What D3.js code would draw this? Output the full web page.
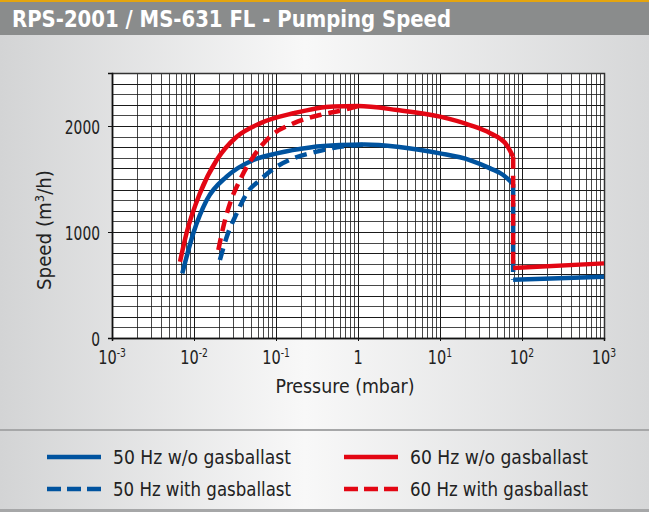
<!DOCTYPE html>
<meta charset="utf-8">
<script src="https://cdn.jsdelivr.net/npm/d3@7"></script>
<style>
body { margin: 0; }
text { font-family: "DejaVu Sans Condensed", "Liberation Sans Narrow", sans-serif; fill: #222; }
.grid line { stroke: #1a1a1a; stroke-width: 1px; shape-rendering: crispEdges; }
.axis path, .axis line { stroke: #111; }
</style>
<body>
<script>

// pressure (mbar) / speed (m3/h)
var p50 = [0.0072, 0.0098, 0.0143, 0.025, 0.053, 0.102, 0.26, 0.6, 1.2, 3, 10, 23, 41, 59, 78];
var s50 = [610, 988, 1302, 1522, 1679, 1742, 1798, 1820, 1825, 1805, 1742, 1679, 1600, 1538, 1453];
var p60 = [0.00675, 0.0081, 0.0118, 0.0189, 0.0332, 0.0638, 0.163, 0.5, 1, 3, 10, 23, 41, 65, 78];
var s60 = [720, 988, 1365, 1679, 1899, 2025, 2120, 2185, 2188, 2151, 2088, 2009, 1931, 1821, 1710];
var p50gb = [0.0207, 0.0251, 0.0332, 0.044, 0.0638, 0.102, 0.163, 0.313, 0.55, 1.2];
var s50gb = [736, 956, 1176, 1365, 1491, 1616, 1695, 1758, 1799, 1825];
var p60gb = [0.0198, 0.0228, 0.0275, 0.0364, 0.0528, 0.0845, 0.163, 0.344, 0.66, 1];
var s60gb = [830, 1050, 1271, 1491, 1711, 1899, 2025, 2104, 2151, 2188];
// after the drop at ~78 mbar
var pLow = [78, 1000];
var s50low = [550, 578];
var s60low = [660, 704];

var yTicks = [0, 1000, 2000];
var xTicks = [1e-3, 1e-2, 1e-1, 1, 10, 100, 1000];
var xTickLabels = [["10", "-3"], ["10", "-2"], ["10", "-1"], ["1", ""], ["10", "1"], ["10", "2"], ["10", "3"]];

var legendNames = ["50 Hz w/o gasballast", "60 Hz w/o gasballast", "50 Hz with gasballast", "60 Hz with gasballast"];

var blue = "#00539f", red = "#e30613";

var W = 649, H = 512;
var mLeft = 112, mRight = 604, mTop = 73, mBottom = 338;

var svg = d3.select("body").append("svg")
    .attr("width", W)
    .attr("height", H);

var defs = svg.append("defs");
var grad = defs.append("linearGradient").attr("id", "bg").attr("x1", 0).attr("x2", 1).attr("y1", 0).attr("y2", 0);
grad.append("stop").attr("offset", "0").attr("stop-color", "#d3d4d5");
grad.append("stop").attr("offset", "0.47").attr("stop-color", "#f8f8f8");
grad.append("stop").attr("offset", "1").attr("stop-color", "#d6d7d8");

svg.append("rect").attr("width", W).attr("height", H).attr("fill", "url(#bg)");

// squeeze a text to a given width (the original face is condensed)
function fit(sel, w) {
    sel.attr("textLength", w).attr("lengthAdjust", "spacingAndGlyphs");
}

// header
svg.append("rect").attr("y", 0).attr("width", W).attr("height", 35).attr("fill", "#8a8c8c");
svg.append("rect").attr("y", 0).attr("width", W).attr("height", 2).attr("fill", "#e5a50f");
svg.append("text")
    .attr("x", 12).attr("y", 27)
    .style("font-size", "23px").style("font-weight", "bold").style("fill", "#fff")
    .text("RPS-2001 / MS-631 FL - Pumping Speed")
    .call(fit, 439);

var x = d3.scaleLog().domain([1e-3, 1e3]).range([mLeft, mRight]);
var y = d3.scaleLinear().domain([0, 2500]).range([mBottom, mTop]);

svg.append("rect")
    .attr("x", mLeft).attr("y", mTop)
    .attr("width", mRight - mLeft).attr("height", mBottom - mTop)
    .attr("fill", "#fff");

// grid
var grid = svg.append("g").attr("class", "grid");
grid.selectAll(".v").data(x.ticks()).enter().append("line")
    .attr("x1", function(d) { return Math.round(x(d)) + 0.5; })
    .attr("x2", function(d) { return Math.round(x(d)) + 0.5; })
    .attr("y1", mTop).attr("y2", mBottom)
    .style("stroke-opacity", function(d) {
        var m = d / Math.pow(10, Math.floor(Math.log10(d) + 1e-9));
        return Math.abs(m - 1) < 1e-6 ? 1 : 0.8;
    });
grid.selectAll(".h").data(d3.range(0, 2501, 100)).enter().append("line")
    .attr("x1", mLeft).attr("x2", mRight)
    .attr("y1", function(d) { return Math.round(y(d)) + 0.5; })
    .attr("y2", function(d) { return Math.round(y(d)) + 0.5; })
    .style("stroke-opacity", function(d, i) { return i % 2 ? 0.8 : 1; });

svg.append("rect")
    .attr("x", mLeft + 0.5).attr("y", mTop + 0.5)
    .attr("width", mRight - mLeft).attr("height", mBottom - mTop)
    .attr("fill", "none").attr("stroke", "#333").attr("stroke-width", 1.5);

// axes
var yAxis = svg.append("g").attr("class", "axis")
    .attr("transform", "translate(" + mLeft + ",0)")
    .call(d3.axisLeft(y).tickValues(yTicks).tickSize(4).tickFormat(d3.format("d")));
yAxis.select(".domain").attr("stroke-width", 1.5);
yAxis.selectAll("text")
    .style("font-size", "19px").attr("x", -12).attr("dy", "0.38em").style("fill", "#222")
    .style("font-family", null)
    .each(function(d) { d3.select(this).call(fit, String(d).length * 8.8); });

var xAxis = svg.append("g").attr("class", "axis")
    .attr("transform", "translate(0," + mBottom + ")")
    .call(d3.axisBottom(x).tickValues(xTicks).tickSize(3).tickFormat(""));
xAxis.select(".domain").attr("stroke-width", 1.5);

var xl = svg.append("g").selectAll("text").data(xTicks).enter().append("text")
    .attr("transform", function(d) { return "translate(" + x(d) + ",364) scale(0.85,1)"; })
    .attr("text-anchor", "middle")
    .style("font-size", "19px");
xl.append("tspan").text(function(d, i) { return xTickLabels[i][0]; });
xl.append("tspan").attr("dy", -7).style("font-size", "12px").text(function(d, i) { return xTickLabels[i][1]; });

svg.append("text")
    .attr("x", 345).attr("y", 393)
    .attr("text-anchor", "middle")
    .style("font-size", "19px")
    .text("Pressure (mbar)")
    .call(fit, 139);

var yl = svg.append("text")
    .attr("transform", "translate(51,230) rotate(-90)")
    .attr("text-anchor", "middle")
    .style("font-size", "19px");
yl.append("tspan").text("Speed (m");
yl.append("tspan").attr("dy", -7).style("font-size", "12px").text("3");
yl.append("tspan").attr("dy", 7).text("/h)");
yl.call(fit, 120);

// curves
var line = d3.line()
    .x(function(d) { return x(d[0]); })
    .y(function(d) { return y(d[1]); })
    .curve(d3.curveMonotoneX);
var straight = d3.line()
    .x(function(d) { return x(d[0]); })
    .y(function(d) { return y(d[1]); });

function pts(ps, ss) { return ps.map(function(p, i) { return [p, ss[i]]; }); }

var lw = 4.5, dash = "12,7";
var plot = svg.append("g");

function curveSet(ps, ss, pg, sg, sl, col) {
    plot.append("path").attr("d", line(pts(ps, ss)))
        .attr("fill", "none").attr("stroke", col).attr("stroke-width", lw);
    plot.append("path").attr("d", straight(pts(pLow, sl)))
        .attr("fill", "none").attr("stroke", col).attr("stroke-width", lw);
    plot.append("path").attr("d", line(pts(pg, sg)))
        .attr("fill", "none").attr("stroke", col).attr("stroke-width", lw)
        .attr("stroke-dasharray", dash);
    // vertical drop at ~78 mbar
    plot.append("path").attr("d", straight([[pLow[0], ss[ss.length - 1]], [pLow[0], sl[0]]]))
        .attr("fill", "none").attr("stroke", col).attr("stroke-width", lw)
        .attr("stroke-dasharray", dash);
}
curveSet(p50, s50, p50gb, s50gb, s50low, blue);
curveSet(p60, s60, p60gb, s60gb, s60low, red);

// legend
svg.append("rect").attr("x", 0).attr("y", 429).attr("width", W).attr("height", 2).attr("fill", "#a6a7a8");
svg.append("rect").attr("x", 0).attr("y", 509).attr("width", W).attr("height", 3).attr("fill", "#a6a7a8");

var legCols = [blue, red, blue, red];
var legX = [47, 344, 47, 344];
var legY = [457, 457, 489, 489];
var leg = svg.append("g").selectAll("g").data(legendNames).enter().append("g")
    .attr("transform", function(d, i) { return "translate(" + legX[i] + "," + legY[i] + ")"; });
leg.append("line")
    .attr("x1", 0).attr("x2", 54)
    .attr("stroke", function(d, i) { return legCols[i]; })
    .attr("stroke-width", 4.5)
    .attr("stroke-dasharray", function(d, i) { return i > 1 ? "14,6" : null; });
leg.append("text")
    .attr("x", 66).attr("y", 7)
    .style("font-size", "20px")
    .text(function(d) { return d; })
    .call(fit, 178);

</script>
</body>
